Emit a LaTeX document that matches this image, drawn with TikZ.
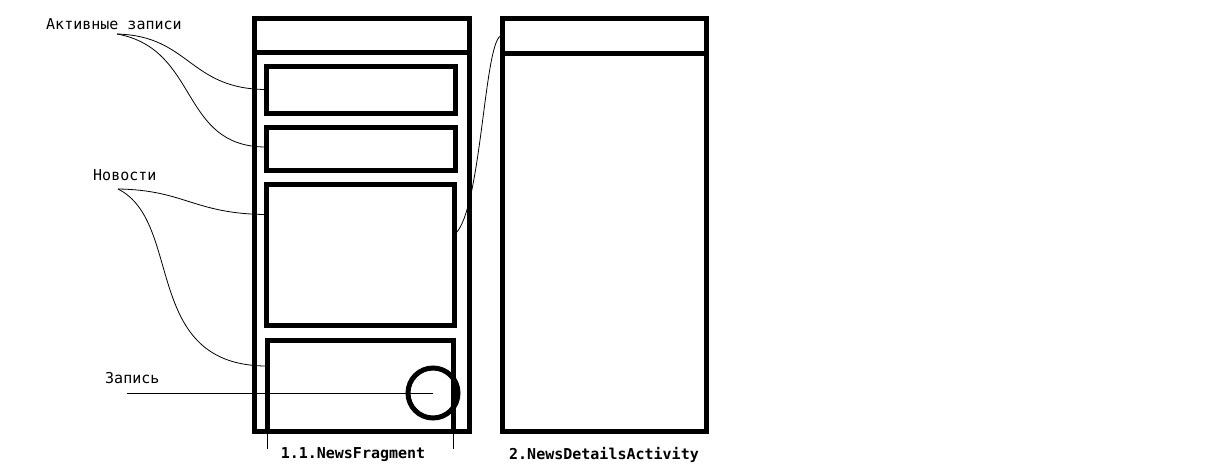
\documentclass[tikz,border=0pt]{standalone}
\usepackage{fontspec}
\setmonofont{DejaVu Sans Mono}
\usepackage{tikz}

\tikzset{
  frame/.style={draw, line width=5pt, inner sep=0pt, outer sep=0pt},
  wire/.style={line width=0.8pt},
  note/.style={font=\ttfamily\fontsize{15}{17}\selectfont, inner sep=0pt, anchor=west},
  title/.style={font=\ttfamily\bfseries\fontsize{15}{17}\selectfont, inner sep=0pt},
}

\begin{document}
\begin{tikzpicture}[x=1pt,y=-1pt]
\useasboundingbox (0,0) rectangle (1225,475);

% NewsFragment
\node[frame, minimum width=215pt, minimum height=413pt] (phoneA) at (361.5,224.5) {};
\node[frame, minimum width=215pt, minimum height=34pt] (headA) at (361.5,35) {};
\node[frame, minimum width=189pt, minimum height=47pt] (box1) at (360.5,89.5) {};
\node[frame, minimum width=189pt, minimum height=43pt] (box2) at (360.5,148.5) {};
\node[frame, minimum width=188pt, minimum height=141pt] (box3) at (360.5,254.5) {};
\node[frame, minimum width=186pt, minimum height=91pt] (box4) at (360,385.5) {};
\node[frame, circle, minimum size=50pt] (fab) at (433,393) {};

% NewsDetailsActivity
\node[frame, minimum width=204pt, minimum height=413pt] (phoneB) at (604,224.5) {};
\node[frame, minimum width=204pt, minimum height=35pt] (headB) at (604,35.5) {};

\node[title] (capA) at (353,455) {1.1.NewsFragment};
\node[title] (capB) at (604,455) {2.NewsDetailsActivity};

\node[note] (lblActive) at (46,24) {Активные записи};
\node[note] (lblNews) at (93,175) {Новости};
\node[note] (lblItem) at (105,378) {Запись};

\coordinate (srcActive) at (117,34);
\coordinate (srcNews) at (118,189);
\coordinate (srcItem) at (127,393);

\draw[wire] (srcActive) .. controls (190,36) and (189,89) .. (box1.west);
\draw[wire] (srcActive) .. controls (200,49) and (179,147) .. ([yshift=1.5pt]box2.west);
\draw[wire] (srcNews) .. controls (185,190) and (194,214) .. ([yshift=40pt]box3.west);
\draw[wire] (srcNews) .. controls (184,222) and (141,366) .. ([yshift=19.5pt]box4.west);
\draw[wire] (srcItem) -- (fab.center);
\draw[wire] ([yshift=20pt]box3.east) .. controls (482,212) and (484,35.5) .. (headB.west);

\draw[wire] (box4.south west) -- ++(0,18);
\draw[wire] (box4.south east) -- ++(0,18);
\end{tikzpicture}
\end{document}
